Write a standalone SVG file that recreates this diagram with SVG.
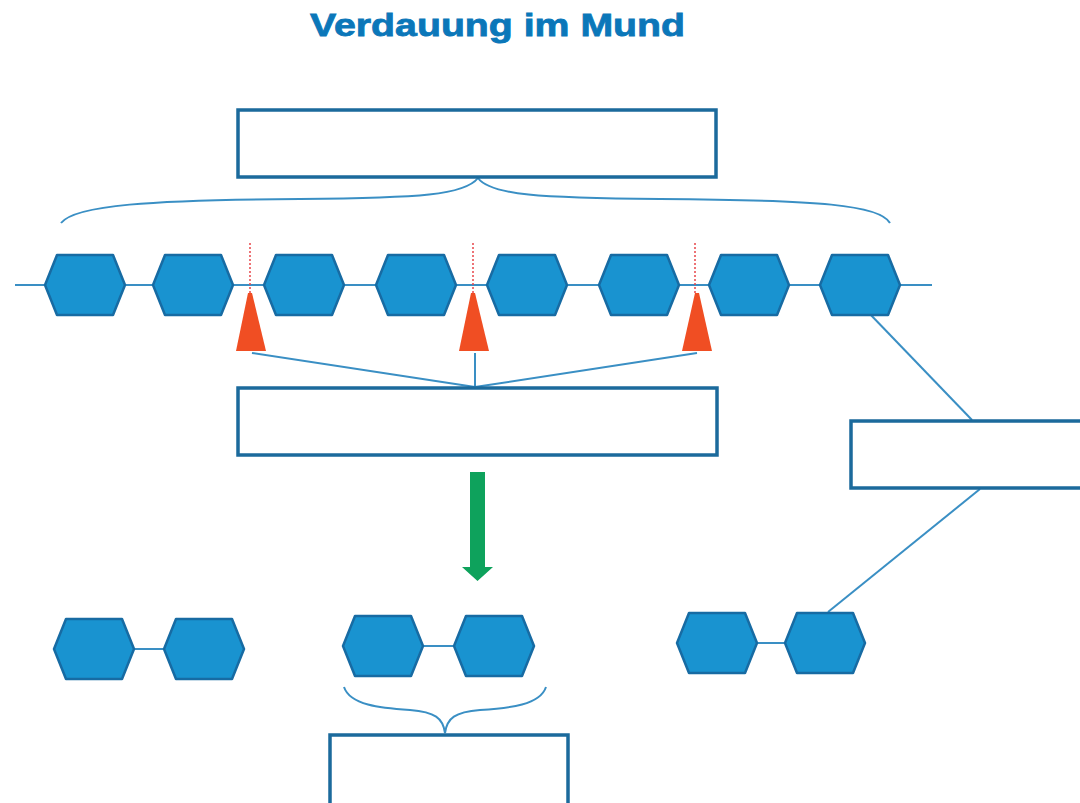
<svg xmlns="http://www.w3.org/2000/svg" width="1080" height="803" viewBox="0 0 1080 803">
<defs>
<style>
.hex{fill:#1993d0;stroke:#176ba3;stroke-width:2.5;stroke-linejoin:round}
.box{fill:#fff;stroke:#1b6a9c;stroke-width:3.5}
.ln{fill:none;stroke:#3a8fc4;stroke-width:2}
.cut{stroke:#e8464a;stroke-width:1.5;stroke-dasharray:2 2}
.tri{fill:#f04e23}
.title{font-family:"Liberation Sans",Arial,sans-serif;font-weight:bold;font-size:32px;fill:#0b77b9;stroke:#0b77b9;stroke-width:0.8}
</style>
<polygon id="hx" points="-40,0 -28,-30 28,-30 40,0 28,30 -28,30"/>
</defs>
<rect width="1080" height="803" fill="#fff"/>
<text class="title" x="310" y="36" textLength="375" lengthAdjust="spacingAndGlyphs">Verdauung im Mund</text>

<g id="connectors">
<line class="ln" x1="15" y1="285" x2="932" y2="285"/>
<path class="ln" d="M61,223 C75,205 150,200 300,199 C420,198 465,195 478,178 C490,195 540,198 660,199 C820,200 880,205 890,223"/>
<line class="ln" x1="252" y1="353" x2="475" y2="387"/>
<line class="ln" x1="475" y1="353" x2="475" y2="387"/>
<line class="ln" x1="697" y1="353" x2="475" y2="387"/>
<line class="ln" x1="868" y1="312" x2="972" y2="420"/>
<line class="ln" x1="980" y1="489" x2="828" y2="612"/>
<line class="ln" x1="134" y1="649" x2="163" y2="649"/>
<line class="ln" x1="423" y1="646" x2="453" y2="646"/>
<line class="ln" x1="757" y1="643" x2="784" y2="643"/>
<path class="ln" d="M344,687 C350,705 380,708 410,710 C435,712 443,718 445,733 C447,718 455,712 480,710 C510,708 540,705 546,687"/>
<line class="cut" x1="250" y1="243" x2="250" y2="294"/>
<line class="cut" x1="473" y1="243" x2="473" y2="294"/>
<line class="cut" x1="695" y1="243" x2="695" y2="294"/>
</g>

<g id="chain">
<use href="#hx" class="hex" x="85" y="285"/>
<use href="#hx" class="hex" x="193" y="285"/>
<use href="#hx" class="hex" x="304" y="285"/>
<use href="#hx" class="hex" x="416" y="285"/>
<use href="#hx" class="hex" x="527" y="285"/>
<use href="#hx" class="hex" x="639" y="285"/>
<use href="#hx" class="hex" x="749" y="285"/>
<use href="#hx" class="hex" x="860" y="285"/>
</g>

<g id="enzymes">
<polygon class="tri" points="248,293 252,293 266,351 236,351"/>
<polygon class="tri" points="471,293 475,293 489,351 459,351"/>
<polygon class="tri" points="695,293 699,293 712,351 682,351"/>
</g>

<g id="box-top"><rect class="box" x="238" y="110" width="478" height="67"/></g>
<g id="box-middle"><rect class="box" x="238" y="388" width="479" height="67"/></g>
<g id="box-right"><rect class="box" x="851" y="421" width="235" height="67"/></g>
<g id="box-bottom"><rect class="box" x="330" y="735" width="238" height="70"/></g>

<g id="arrow">
<polygon fill="#0ea25c" points="470,472 485,472 485,567 493,567 477.5,581 462,567 470,567"/>
</g>

<g id="pair-left">
<use href="#hx" class="hex" x="94" y="649"/>
<use href="#hx" class="hex" x="204" y="649"/>
</g>
<g id="pair-middle">
<use href="#hx" class="hex" x="383" y="646"/>
<use href="#hx" class="hex" x="494" y="646"/>
</g>
<g id="pair-right">
<use href="#hx" class="hex" x="717" y="643"/>
<use href="#hx" class="hex" x="825" y="643"/>
</g>
</svg>
